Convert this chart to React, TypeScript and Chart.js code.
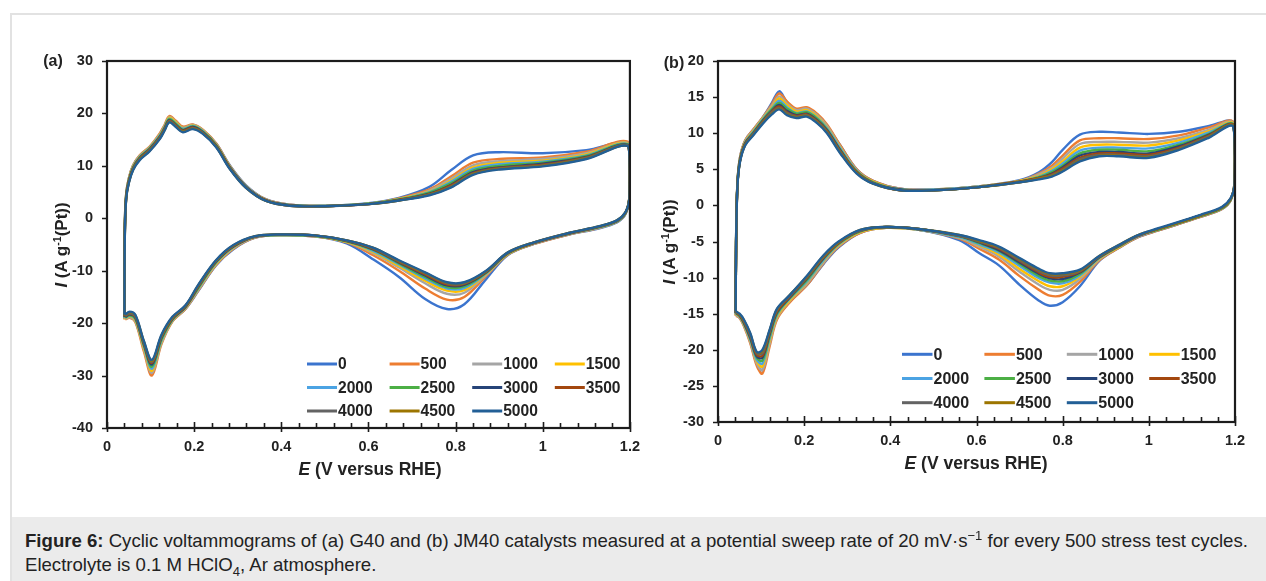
import React, { useEffect, useRef } from 'react';
import { Chart, registerables } from 'chart.js';

Chart.register(...registerables);

const FONT = '"Liberation Sans", Arial, Helvetica, sans-serif';

// ---------- labels / colours ----------
const CYCLES = ['0', '500', '1000', '1500', '2000', '2500', '3000', '3500', '4000', '4500', '5000'];
const COLORS = ['#3B74CE', '#ED7D31', '#A5A5A5', '#FFC000', '#4BA3E3', '#4CAF45', '#264478', '#A3470E', '#636363', '#9C7500', '#225F96'];

// ---------- panel (a) G40: potential along the loop (anodic then cathodic) ----------
const E_G40 = [
  0.040, 0.041, 0.044, 0.050, 0.060, 0.075, 0.098, 0.121, 0.132, 0.143, 0.158, 0.174, 0.197, 0.220, 0.251, 0.281, 0.319, 0.365, 0.420, 0.500, 0.600, 0.670, 0.740, 0.790, 0.840, 0.900, 1.000, 1.100, 1.195,
  1.200, 1.199, 1.190, 1.170, 1.130, 1.060, 0.980, 0.920, 0.870, 0.820, 0.780, 0.730, 0.670, 0.610, 0.550, 0.480, 0.400, 0.340, 0.290, 0.250, 0.210, 0.180, 0.150, 0.125, 0.103, 0.085, 0.065, 0.052, 0.042,
];
const G40_0 = [
  -19.0, -1.0, 4.6, 7.6, 10.1, 11.9, 13.6, 16.0, 17.6, 19.2, 18.3, 17.3, 17.8, 16.8, 14.2, 10.2, 6.3, 3.6, 2.6, 2.4, 2.9, 3.9, 6.0, 9.2, 12.0, 12.6, 12.4, 13.0, 14.3,
  9.5, 4.2, 0.8, -0.8, -1.9, -3.1, -4.9, -7.0, -11.6, -16.4, -17.3, -15.4, -11.2, -7.8, -4.8, -3.5, -3.2, -3.7, -5.9, -9.0, -13.8, -17.3, -19.6, -23.6, -29.4, -25.0, -19.6, -18.8, -19.0,
];
const G40_500 = [
  -19.3, -1.2, 4.6, 7.6, 10.1, 12.0, 13.7, 16.2, 17.8, 19.5, 18.6, 17.5, 17.9, 16.9, 14.2, 10.1, 6.2, 3.6, 2.6, 2.4, 2.8, 3.8, 5.5, 8.0, 10.6, 11.3, 11.6, 12.7, 14.6,
  9.6, 4.2, 0.9, -0.7, -1.8, -3.1, -4.9, -6.9, -11.0, -15.0, -15.5, -13.4, -10.0, -7.0, -4.6, -3.5, -3.2, -3.7, -5.8, -8.9, -13.7, -17.3, -19.7, -24.0, -30.0, -25.5, -19.8, -19.0, -19.3,
];
const G40_1000 = [
  -19.2, -1.4, 4.5, 7.5, 10.0, 11.9, 13.6, 16.0, 17.6, 19.3, 18.4, 17.3, 17.8, 16.8, 14.1, 10.0, 6.2, 3.5, 2.6, 2.4, 2.8, 3.7, 5.3, 7.6, 10.1, 10.9, 11.3, 12.4, 14.4,
  9.5, 4.1, 0.9, -0.7, -1.8, -3.0, -4.8, -6.8, -10.8, -14.2, -14.4, -12.4, -9.4, -6.6, -4.5, -3.4, -3.2, -3.6, -5.7, -8.8, -13.6, -17.2, -19.6, -23.8, -29.5, -25.1, -19.6, -18.9, -19.2,
];
const G40_1500 = [
  -19.1, -1.6, 4.4, 7.4, 9.9, 11.8, 13.5, 15.9, 17.5, 19.2, 18.3, 17.2, 17.7, 16.7, 14.0, 10.0, 6.1, 3.5, 2.5, 2.4, 2.8, 3.7, 5.1, 7.2, 9.7, 10.6, 11.0, 12.2, 14.3,
  9.4, 4.1, 1.0, -0.6, -1.7, -3.0, -4.8, -6.8, -10.6, -13.7, -13.8, -11.9, -9.1, -6.4, -4.5, -3.4, -3.2, -3.6, -5.6, -8.7, -13.4, -17.1, -19.5, -23.5, -29.1, -24.8, -19.4, -18.7, -19.1,
];
const G40_2000 = [
  -19.0, -1.8, 4.3, 7.3, 9.8, 11.7, 13.4, 15.8, 17.4, 19.0, 18.1, 17.1, 17.6, 16.6, 13.9, 9.9, 6.1, 3.5, 2.5, 2.4, 2.8, 3.6, 5.0, 7.0, 9.4, 10.3, 10.8, 12.0, 14.2,
  9.3, 4.0, 1.0, -0.6, -1.7, -3.0, -4.8, -6.7, -10.5, -13.3, -13.4, -11.5, -8.8, -6.2, -4.4, -3.4, -3.2, -3.6, -5.5, -8.5, -13.3, -17.0, -19.4, -23.3, -28.7, -24.5, -19.2, -18.6, -19.0,
];
const G40_2500 = [
  -18.9, -2.0, 4.2, 7.2, 9.7, 11.6, 13.3, 15.6, 17.2, 18.9, 18.0, 16.9, 17.5, 16.5, 13.9, 9.8, 6.0, 3.4, 2.5, 2.3, 2.8, 3.6, 4.9, 6.7, 9.1, 10.0, 10.6, 11.9, 14.1,
  9.2, 4.0, 1.0, -0.6, -1.7, -2.9, -4.7, -6.7, -10.4, -13.0, -13.1, -11.2, -8.6, -6.0, -4.4, -3.4, -3.2, -3.5, -5.4, -8.4, -13.2, -16.9, -19.3, -23.1, -28.3, -24.3, -19.1, -18.5, -18.9,
];
const G40_3000 = [
  -18.8, -2.2, 4.1, 7.1, 9.6, 11.5, 13.2, 15.5, 17.1, 18.7, 17.8, 16.8, 17.4, 16.4, 13.8, 9.8, 6.0, 3.4, 2.5, 2.3, 2.7, 3.5, 4.7, 6.4, 8.8, 9.7, 10.4, 11.7, 14.0,
  9.1, 3.9, 1.1, -0.5, -1.6, -2.9, -4.7, -6.6, -10.3, -12.7, -12.8, -10.9, -8.4, -5.9, -4.3, -3.3, -3.1, -3.5, -5.4, -8.3, -13.0, -16.9, -19.2, -22.8, -27.9, -24.1, -18.9, -18.3, -18.8,
];
const G40_3500 = [
  -18.7, -2.4, 4.0, 7.0, 9.5, 11.4, 13.1, 15.4, 17.0, 18.6, 17.7, 16.7, 17.3, 16.3, 13.7, 9.7, 5.9, 3.4, 2.4, 2.3, 2.7, 3.5, 4.6, 6.3, 8.6, 9.6, 10.2, 11.6, 13.9,
  9.0, 3.9, 1.1, -0.5, -1.6, -2.9, -4.7, -6.6, -10.2, -12.5, -12.6, -10.7, -8.3, -5.8, -4.3, -3.3, -3.1, -3.5, -5.3, -8.2, -12.9, -16.8, -19.1, -22.6, -27.6, -23.9, -18.8, -18.2, -18.7,
];
const G40_4000 = [
  -18.6, -2.6, 3.9, 6.9, 9.4, 11.3, 13.0, 15.3, 16.9, 18.5, 17.6, 16.6, 17.2, 16.3, 13.6, 9.6, 5.9, 3.3, 2.4, 2.3, 2.7, 3.4, 4.5, 6.1, 8.5, 9.5, 10.1, 11.5, 13.9,
  9.0, 3.8, 1.1, -0.5, -1.6, -2.8, -4.6, -6.6, -10.1, -12.4, -12.4, -10.5, -8.2, -5.7, -4.2, -3.3, -3.1, -3.5, -5.2, -8.1, -12.8, -16.7, -19.0, -22.5, -27.4, -23.8, -18.7, -18.1, -18.6,
];
const G40_4500 = [
  -18.5, -2.8, 3.8, 6.8, 9.3, 11.2, 12.9, 15.2, 16.8, 18.4, 17.5, 16.5, 17.1, 16.2, 13.6, 9.6, 5.8, 3.3, 2.4, 2.3, 2.7, 3.4, 4.5, 6.0, 8.4, 9.4, 10.0, 11.4, 13.8,
  8.9, 3.8, 1.2, -0.4, -1.5, -2.8, -4.6, -6.5, -10.1, -12.3, -12.3, -10.4, -8.1, -5.6, -4.2, -3.3, -3.1, -3.4, -5.2, -8.1, -12.7, -16.7, -18.9, -22.4, -27.2, -23.6, -18.5, -17.9, -18.5,
];
const G40_5000 = [
  -18.4, -3.0, 3.7, 6.7, 9.2, 11.1, 12.8, 15.1, 16.7, 18.3, 17.4, 16.4, 17.0, 16.1, 13.5, 9.5, 5.8, 3.3, 2.4, 2.3, 2.7, 3.4, 4.4, 5.9, 8.3, 9.3, 9.9, 11.3, 13.8,
  8.8, 3.7, 1.2, -0.4, -1.5, -2.8, -4.6, -6.5, -10.0, -12.2, -12.2, -10.3, -8.0, -5.6, -4.2, -3.3, -3.1, -3.4, -5.1, -8.0, -12.6, -16.6, -18.8, -22.2, -27.0, -23.5, -18.4, -17.8, -18.4,
];

// ---------- panel (b) JM40 ----------
const E_JM40 = [
  0.041, 0.042, 0.045, 0.051, 0.063, 0.082, 0.105, 0.125, 0.142, 0.160, 0.182, 0.206, 0.230, 0.253, 0.284, 0.322, 0.360, 0.423, 0.500, 0.600, 0.700, 0.745, 0.775, 0.800, 0.840, 0.885, 0.930, 1.000, 1.070, 1.140, 1.195,
  1.200, 1.199, 1.190, 1.170, 1.120, 1.020, 0.975, 0.930, 0.885, 0.840, 0.800, 0.770, 0.745, 0.700, 0.652, 0.606, 0.560, 0.470, 0.390, 0.330, 0.280, 0.245, 0.207, 0.167, 0.137, 0.120, 0.103, 0.090, 0.075, 0.060, 0.050, 0.042,
];
const JM40_0 = [
  -15.1, -4.5, 3.0, 6.6, 9.0, 10.5, 12.3, 14.2, 15.8, 14.3, 13.2, 13.3, 12.4, 11.0, 8.3, 5.0, 3.4, 2.3, 2.2, 2.6, 3.5, 4.6, 6.0, 7.7, 9.8, 10.2, 10.1, 9.9, 10.2, 11.0, 11.6,
  7.2, 3.2, 0.7, -0.5, -1.6, -3.5, -4.4, -5.9, -7.7, -11.2, -13.4, -13.9, -13.2, -11.0, -8.3, -6.6, -4.8, -3.4, -3.1, -3.8, -5.8, -8.1, -11.0, -13.3, -15.6, -19.0, -22.8, -21.9, -18.9, -16.5, -15.5, -15.1,
];
const JM40_500 = [
  -15.3, -4.6, 3.0, 6.6, 9.0, 10.5, 12.3, 14.0, 15.5, 14.4, 13.4, 13.6, 12.7, 11.2, 8.3, 5.0, 3.4, 2.3, 2.2, 2.6, 3.4, 4.4, 5.5, 6.9, 9.0, 9.3, 9.3, 9.2, 9.7, 10.8, 11.6,
  7.2, 3.2, 0.7, -0.5, -1.6, -3.5, -4.4, -5.9, -7.6, -10.6, -12.4, -12.5, -11.7, -9.8, -7.5, -6.0, -4.6, -3.4, -3.1, -3.8, -5.7, -8.0, -11.0, -13.4, -15.8, -19.5, -23.3, -22.2, -19.1, -16.7, -15.6, -15.3,
];
const JM40_1000 = [
  -15.2, -4.7, 2.9, 6.5, 8.9, 10.4, 12.2, 13.8, 15.1, 14.1, 13.2, 13.4, 12.5, 11.0, 8.1, 4.9, 3.3, 2.3, 2.2, 2.6, 3.4, 4.3, 5.2, 6.5, 8.5, 8.8, 8.8, 8.7, 9.3, 10.5, 11.5,
  7.1, 3.1, 0.8, -0.4, -1.5, -3.4, -4.3, -5.8, -7.5, -10.2, -11.7, -11.7, -11.0, -9.2, -7.1, -5.7, -4.5, -3.4, -3.1, -3.7, -5.6, -7.9, -10.8, -13.2, -15.6, -19.1, -22.8, -21.9, -18.9, -16.6, -15.5, -15.2,
];
const JM40_1500 = [
  -15.1, -4.8, 2.9, 6.4, 8.8, 10.3, 12.1, 13.6, 14.8, 13.9, 13.0, 13.2, 12.3, 10.8, 8.0, 4.8, 3.3, 2.2, 2.2, 2.6, 3.4, 4.1, 5.0, 6.1, 8.0, 8.4, 8.4, 8.3, 9.0, 10.3, 11.4,
  7.1, 3.1, 0.8, -0.4, -1.5, -3.4, -4.3, -5.8, -7.4, -9.9, -11.2, -11.2, -10.5, -8.8, -6.8, -5.5, -4.4, -3.4, -3.1, -3.7, -5.5, -7.7, -10.6, -13.1, -15.4, -18.7, -22.3, -21.6, -18.7, -16.5, -15.4, -15.1,
];
const JM40_2000 = [
  -15.0, -4.9, 2.8, 6.4, 8.7, 10.2, 12.0, 13.4, 14.5, 13.6, 12.8, 13.0, 12.1, 10.7, 7.9, 4.8, 3.2, 2.2, 2.2, 2.6, 3.3, 4.0, 4.8, 5.8, 7.6, 8.0, 8.0, 7.9, 8.7, 10.1, 11.3,
  7.0, 3.0, 0.8, -0.4, -1.5, -3.4, -4.3, -5.7, -7.3, -9.7, -10.8, -10.7, -10.1, -8.4, -6.5, -5.4, -4.4, -3.4, -3.0, -3.6, -5.4, -7.6, -10.5, -12.9, -15.2, -18.4, -21.9, -21.4, -18.6, -16.4, -15.4, -15.0,
];
const JM40_2500 = [
  -14.9, -5.0, 2.8, 6.3, 8.6, 10.1, 11.9, 13.3, 14.2, 13.4, 12.7, 12.9, 12.0, 10.5, 7.7, 4.7, 3.2, 2.2, 2.1, 2.5, 3.3, 3.9, 4.6, 5.5, 7.2, 7.7, 7.7, 7.5, 8.4, 9.9, 11.3,
  7.0, 3.0, 0.8, -0.4, -1.5, -3.4, -4.2, -5.7, -7.2, -9.5, -10.5, -10.4, -9.8, -8.1, -6.3, -5.2, -4.3, -3.3, -3.0, -3.6, -5.3, -7.4, -10.3, -12.8, -15.0, -18.1, -21.5, -21.1, -18.4, -16.3, -15.3, -14.9,
];
const JM40_3000 = [
  -14.9, -5.1, 2.7, 6.2, 8.6, 10.0, 11.8, 13.1, 13.9, 13.1, 12.5, 12.7, 11.8, 10.4, 7.6, 4.6, 3.1, 2.2, 2.1, 2.5, 3.3, 3.8, 4.4, 5.3, 6.9, 7.4, 7.4, 7.2, 8.2, 9.8, 11.2,
  6.9, 2.9, 0.9, -0.3, -1.4, -3.3, -4.2, -5.6, -7.2, -9.3, -10.2, -10.1, -9.5, -7.9, -6.2, -5.1, -4.2, -3.3, -3.0, -3.5, -5.2, -7.3, -10.1, -12.7, -14.8, -17.8, -21.1, -20.9, -18.3, -16.2, -15.2, -14.9,
];
const JM40_3500 = [
  -14.8, -5.2, 2.7, 6.2, 8.5, 9.9, 11.7, 13.0, 13.7, 12.9, 12.4, 12.6, 11.7, 10.3, 7.5, 4.6, 3.1, 2.1, 2.1, 2.5, 3.3, 3.8, 4.3, 5.1, 6.6, 7.2, 7.2, 7.0, 8.0, 9.7, 11.2,
  6.9, 2.9, 0.9, -0.3, -1.4, -3.3, -4.2, -5.6, -7.1, -9.2, -9.9, -9.9, -9.3, -7.7, -6.0, -5.0, -4.2, -3.3, -3.0, -3.5, -5.2, -7.2, -10.0, -12.6, -14.7, -17.6, -20.8, -20.7, -18.1, -16.1, -15.2, -14.8,
];
const JM40_4000 = [
  -14.8, -5.3, 2.6, 6.1, 8.4, 9.9, 11.6, 12.9, 13.5, 12.8, 12.3, 12.5, 11.6, 10.2, 7.4, 4.5, 3.1, 2.1, 2.1, 2.5, 3.2, 3.7, 4.2, 4.9, 6.4, 7.0, 7.0, 6.8, 7.9, 9.6, 11.1,
  6.8, 2.8, 0.9, -0.3, -1.4, -3.3, -4.2, -5.6, -7.1, -9.1, -9.7, -9.7, -9.1, -7.6, -5.9, -5.0, -4.2, -3.3, -3.0, -3.5, -5.1, -7.1, -9.9, -12.5, -14.5, -17.4, -20.5, -20.5, -18.0, -16.0, -15.1, -14.8,
];
const JM40_4500 = [
  -14.7, -5.4, 2.6, 6.1, 8.4, 9.8, 11.5, 12.7, 13.4, 12.6, 12.2, 12.4, 11.5, 10.1, 7.3, 4.5, 3.0, 2.1, 2.1, 2.5, 3.2, 3.7, 4.1, 4.8, 6.2, 6.9, 6.9, 6.7, 7.8, 9.5, 11.1,
  6.8, 2.8, 0.9, -0.3, -1.4, -3.3, -4.1, -5.5, -7.0, -9.0, -9.5, -9.5, -8.9, -7.4, -5.8, -4.9, -4.1, -3.3, -3.0, -3.4, -5.1, -7.0, -9.8, -12.4, -14.4, -17.3, -20.2, -20.4, -17.8, -15.9, -15.1, -14.7,
];
const JM40_5000 = [
  -14.7, -5.5, 2.5, 6.0, 8.3, 9.7, 11.4, 12.6, 13.3, 12.5, 12.1, 12.3, 11.4, 10.0, 7.2, 4.4, 3.0, 2.1, 2.1, 2.5, 3.2, 3.6, 4.0, 4.7, 6.1, 6.8, 6.8, 6.6, 7.7, 9.4, 11.0,
  6.7, 2.7, 1.0, -0.2, -1.3, -3.2, -4.1, -5.5, -7.0, -8.9, -9.4, -9.4, -8.8, -7.3, -5.7, -4.8, -4.1, -3.3, -3.0, -3.4, -5.0, -6.9, -9.7, -12.4, -14.3, -17.2, -20.0, -20.3, -17.7, -15.8, -15.0, -14.7,
];

const G40_SERIES = [G40_0, G40_500, G40_1000, G40_1500, G40_2000, G40_2500, G40_3000, G40_3500, G40_4000, G40_4500, G40_5000];
const JM40_SERIES = [JM40_0, JM40_500, JM40_1000, JM40_1500, JM40_2000, JM40_2500, JM40_3000, JM40_3500, JM40_4000, JM40_4500, JM40_5000];

// axis ranges
const X_MIN = 0, X_MAX = 1.2, X_MINOR_STEP = 0.04;
const G40_Y = { min: -40, max: 30, step: 10 };
const JM40_Y = { min: -30, max: 20, step: 5 };

const framePlugin = {
  id: 'frame',
  afterDatasetsDraw(chart: any, _args: any, opts: any) {
    const { ctx, chartArea: a, scales } = chart;
    const xs = scales.x, ys = scales.y;
    ctx.save();
    ctx.strokeStyle = '#1c1c1c';
    // ticks
    ctx.lineWidth = 1.6;
    ctx.beginPath();
    for (const t of ys.ticks) {
      const py = Math.round(ys.getPixelForValue(t.value)) + 0.5;
      ctx.moveTo(a.left - 5, py);
      ctx.lineTo(a.left, py);
    }
    for (const t of xs.ticks) {
      const px = Math.round(xs.getPixelForValue(t.value)) + 0.5;
      const major = Math.abs(t.value * 5 - Math.round(t.value * 5)) < 1e-6;
      if (major) {
        ctx.moveTo(px, a.bottom + 4);
        ctx.lineTo(px, a.bottom - 6);
      } else {
        ctx.moveTo(px, a.bottom);
        ctx.lineTo(px, a.bottom - 5);
      }
    }
    ctx.stroke();
    // frame
    ctx.lineWidth = 2.2;
    ctx.strokeRect(a.left, a.top, a.right - a.left, a.bottom - a.top);
    // legend
    const L = opts.legend;
    ctx.font = `bold ${L.fontSize}px ${FONT}`;
    ctx.textBaseline = 'middle';
    ctx.textAlign = 'left';
    chart.data.datasets.forEach((ds: any, i: number) => {
      const col = i % 4, row = Math.floor(i / 4);
      const x = a.left + L.x0 + col * L.dx;
      const y = a.bottom + L.y0 + row * L.dy;
      ctx.strokeStyle = ds.borderColor;
      ctx.lineWidth = 3;
      ctx.beginPath();
      ctx.moveTo(x, y);
      ctx.lineTo(x + L.len, y);
      ctx.stroke();
      ctx.fillStyle = '#222';
      ctx.fillText(ds.label, x + L.len + 1, y + 1);
    });
    ctx.restore();
  },
};

type PanelProps = {
  left: number; width: number; height: number;
  pad: { left: number; top: number; right: number; bottom: number };
  E: number[]; series: number[][];
  yr: { min: number; max: number; step: number };
  legend: any;
};

function Panel({ left, width, height, pad, E, series, yr, legend }: PanelProps) {
  const ref = useRef<HTMLCanvasElement>(null);
  useEffect(() => {
    const tickFont = { family: FONT, size: 14.5, weight: 'bold' as const };
    const datasets = series.map((vals, i) => ({
      label: CYCLES[i],
      data: E.map((x, k) => ({ x, y: vals[k] })),
      borderColor: COLORS[i],
      backgroundColor: COLORS[i],
      borderWidth: 2.4,
      pointRadius: 0,
      tension: 0.35,
      fill: false,
      order: series.length - i,
    }));
    const chart = new Chart(ref.current as HTMLCanvasElement, {
      type: 'line',
      data: { datasets },
      options: {
        animation: false,
        responsive: false,
        devicePixelRatio: 1,
        layout: { padding: pad },
        plugins: {
          legend: { display: false },
          tooltip: { enabled: false },
          frame: { legend },
        } as any,
        scales: {
          x: {
            type: 'linear',
            min: X_MIN,
            max: X_MAX,
            grid: { display: false, drawTicks: false },
            border: { display: false },
            ticks: {
              stepSize: X_MINOR_STEP,
              autoSkip: false,
              maxRotation: 0,
              padding: 10,
              color: '#222',
              font: tickFont,
              callback: (v: any) => {
                const n = Number(v);
                return Math.abs(n * 5 - Math.round(n * 5)) < 1e-6 ? String(Math.round(n * 10) / 10) : '';
              },
            },
            afterFit: (s: any) => { s.height = 40; },
          },
          y: {
            type: 'linear',
            min: yr.min,
            max: yr.max,
            grid: { display: false, drawTicks: false },
            border: { display: false },
            ticks: {
              stepSize: yr.step,
              padding: 14,
              color: '#222',
              font: tickFont,
              callback: (v: any) => String(v),
            },
            afterFit: (s: any) => { s.width = 60; },
          },
        },
      },
      plugins: [framePlugin],
    });
    return () => chart.destroy();
  }, []);
  return (
    <canvas
      ref={ref}
      width={width}
      height={height}
      style={{ position: 'absolute', left, top: 0, width, height }}
    />
  );
}

const titleX: React.CSSProperties = {
  position: 'absolute', transform: 'translate(-50%, -50%)', whiteSpace: 'nowrap',
  fontFamily: FONT, fontWeight: 'bold', fontSize: 17.5, color: '#222', lineHeight: 1,
};
const titleY: React.CSSProperties = {
  position: 'absolute', transform: 'translate(-50%, -50%) rotate(-90deg)', whiteSpace: 'nowrap',
  fontFamily: FONT, fontWeight: 'bold', fontSize: 17, color: '#222', lineHeight: 1,
};
const panelLab: React.CSSProperties = {
  position: 'absolute', transform: 'translate(-50%, -50%)', whiteSpace: 'nowrap',
  fontFamily: FONT, fontWeight: 'bold', fontSize: 16, color: '#222', lineHeight: 1,
};

function YTitle({ x, y }: { x: number; y: number }) {
  return (
    <div style={{ ...titleY, left: x, top: y }}>
      <i>I</i> (A g<span style={{ fontSize: '0.62em', position: 'relative', top: '-0.55em' }}>-1</span>(Pt))
    </div>
  );
}

function XTitle({ x, y }: { x: number; y: number }) {
  return (
    <div style={{ ...titleX, left: x, top: y }}>
      <i>E</i> (V versus RHE)
    </div>
  );
}

export default function App() {
  return (
    <div style={{ position: 'fixed', left: 0, top: 0, width: 1266, height: 581, background: '#fff', overflow: 'hidden' }}>
      <div style={{ position: 'absolute', left: 10, top: 13, width: 1256, height: 2, background: '#e2e2e2' }} />
      <div style={{ position: 'absolute', left: 10, top: 13, width: 2, height: 568, background: '#e2e2e2' }} />

      <Panel
        left={0} width={650} height={500}
        pad={{ left: 47, top: 61, right: 18, bottom: 32 }}
        E={E_G40} series={G40_SERIES} yr={G40_Y}
        legend={{ x0: 200, y0: -64, dx: 82.6, dy: 23.5, len: 30, fontSize: 15.6 }}
      />
      <Panel
        left={611} width={655} height={500}
        pad={{ left: 47, top: 61, right: 31, bottom: 38 }}
        E={E_JM40} series={JM40_SERIES} yr={JM40_Y}
        legend={{ x0: 184, y0: -67.7, dx: 82.4, dy: 24.2, len: 30.5, fontSize: 16 }}
      />

      <div style={{ ...panelLab, left: 53, top: 61 }}>(a)</div>
      <div style={{ ...panelLab, left: 674, top: 63 }}>(b)</div>
      <YTitle x={61} y={245} />
      <YTitle x={669} y={242} />
      <XTitle x={370} y={470} />
      <XTitle x={976} y={464} />

      <div style={{ position: 'absolute', left: 12, top: 517, width: 1254, height: 64, background: '#ebebeb' }}>
        <div style={{ position: 'absolute', left: 13, top: 13, fontFamily: FONT, fontSize: 18.6, lineHeight: '22px', color: '#222', whiteSpace: 'nowrap' }}>
          <div>
            <b>Figure 6:</b> Cyclic voltammograms of (a) G40 and (b) JM40 catalysts measured at a potential sweep rate of 20 mV·s<span style={{ fontSize: '0.7em', position: 'relative', top: '-0.55em' }}>−1</span> for every 500 stress test cycles.
          </div>
          <div>
            Electrolyte is 0.1 M HClO<span style={{ fontSize: '0.7em', position: 'relative', top: '0.35em' }}>4</span>, Ar atmosphere.
          </div>
        </div>
      </div>
    </div>
  );
}
